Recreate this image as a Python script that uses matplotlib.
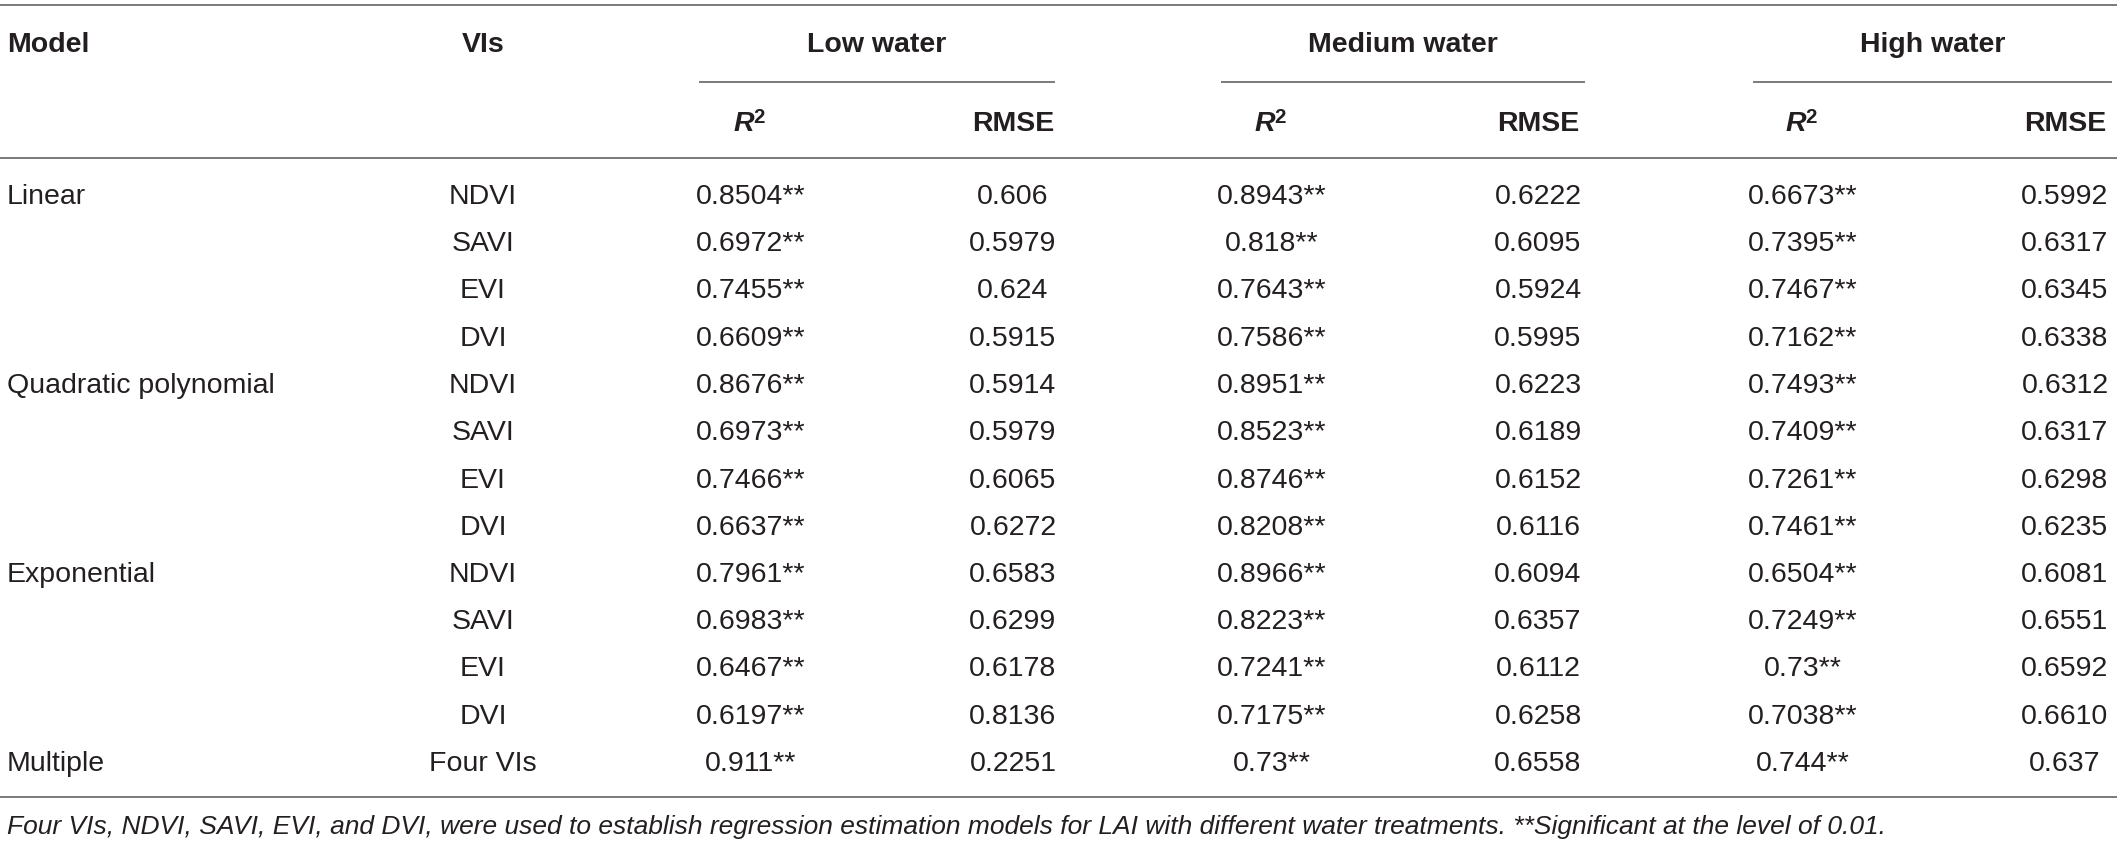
import matplotlib
matplotlib.use("Agg")
import matplotlib.pyplot as plt

plt.rcParams['font.family'] = ['Liberation Sans', 'DejaVu Sans']

models = ["Linear", "", "", "", "Quadratic polynomial", "", "", "",
          "Exponential", "", "", "", "Multiple"]
vis = ["NDVI", "SAVI", "EVI", "DVI"] * 3 + ["Four VIs"]

low_r2 = ["0.8504**", "0.6972**", "0.7455**", "0.6609**", "0.8676**", "0.6973**", "0.7466**",
          "0.6637**", "0.7961**", "0.6983**", "0.6467**", "0.6197**", "0.911**"]
low_rmse = ["0.606", "0.5979", "0.624", "0.5915", "0.5914", "0.5979", "0.6065",
            "0.6272", "0.6583", "0.6299", "0.6178", "0.8136", "0.2251"]
med_r2 = ["0.8943**", "0.818**", "0.7643**", "0.7586**", "0.8951**", "0.8523**", "0.8746**",
          "0.8208**", "0.8966**", "0.8223**", "0.7241**", "0.7175**", "0.73**"]
med_rmse = ["0.6222", "0.6095", "0.5924", "0.5995", "0.6223", "0.6189", "0.6152",
            "0.6116", "0.6094", "0.6357", "0.6112", "0.6258", "0.6558"]
high_r2 = ["0.6673**", "0.7395**", "0.7467**", "0.7162**", "0.7493**", "0.7409**", "0.7261**",
           "0.7461**", "0.6504**", "0.7249**", "0.73**", "0.7038**", "0.744**"]
high_rmse = ["0.5992", "0.6317", "0.6345", "0.6338", "0.6312", "0.6317", "0.6298",
             "0.6235", "0.6081", "0.6551", "0.6592", "0.6610", "0.637"]

groups = ["Low water", "Medium water", "High water"]
footnote = ("Four VIs, NDVI, SAVI, EVI, and DVI, were used to establish regression estimation "
            "models for LAI with different water treatments. **Significant at the level of 0.01.")

W, H = 2117, 846
fig = plt.figure(figsize=(W / 100, H / 100), dpi=100)
ax = fig.add_axes([0, 0, 1, 1])
ax.set_xlim(0, W)
ax.set_ylim(H, 0)
ax.axis("off")

txt = "#231f20"
line_c = "#7a7a7a"
fs = 20.5

# column positions
model_x = 7
vis_x = 483
r2_x = [751, 1272, 1803]
rmse_x = [1013, 1538, 2065]
group_span = [(700, 1054), (1222, 1584), (1754, 2111)]

y_head1, y_head2 = 45, 124
row0, row_h = 197, 47.25

# rules
ax.plot([0, W], [5, 5], color=line_c, lw=1.4)
ax.plot([0, W], [158, 158], color=line_c, lw=1.4)
ax.plot([0, W], [797, 797], color=line_c, lw=1.4)

# header
ax.text(model_x, y_head1, "Model", fontsize=fs, fontweight="bold", color=txt,
        ha="left", va="center")
ax.text(vis_x, y_head1, "VIs", fontsize=fs, fontweight="bold", color=txt,
        ha="center", va="center")
for g, (a, b), rx, mx in zip(groups, group_span, r2_x, rmse_x):
    ax.text((a + b) / 2, y_head1, g, fontsize=fs, fontweight="bold", color=txt,
            ha="center", va="center")
    ax.plot([a, b], [82, 82], color=line_c, lw=1.4)
    r = ax.text(rx - 7, y_head2, "R", fontsize=fs, fontweight="bold", style="italic",
                color=txt, ha="center", va="center")
    ax.annotate("2", xy=(0.95, 1.1), xycoords=r, fontsize=fs * 0.72, fontweight="bold",
                color=txt, ha="left", va="top")
    ax.text(mx, y_head2, "RMSE", fontsize=fs, fontweight="bold", color=txt,
            ha="center", va="center")

# body
cols = [low_r2, low_rmse, med_r2, med_rmse, high_r2, high_rmse]
col_x = [r2_x[0], rmse_x[0], r2_x[1], rmse_x[1], r2_x[2], rmse_x[2]]
for i in range(len(vis)):
    y = row0 + i * row_h
    ax.text(model_x, y, models[i], fontsize=fs, color=txt, ha="left", va="center")
    ax.text(vis_x, y, vis[i], fontsize=fs, color=txt, ha="center", va="center")
    for c, x in zip(cols, col_x):
        ax.text(x, y, c[i], fontsize=fs, color=txt, ha="center", va="center")

ax.text(model_x, 827, footnote, fontsize=19, style="italic", color=txt,
        ha="left", va="center")

fig.savefig("out.png", dpi=100, facecolor="white")
